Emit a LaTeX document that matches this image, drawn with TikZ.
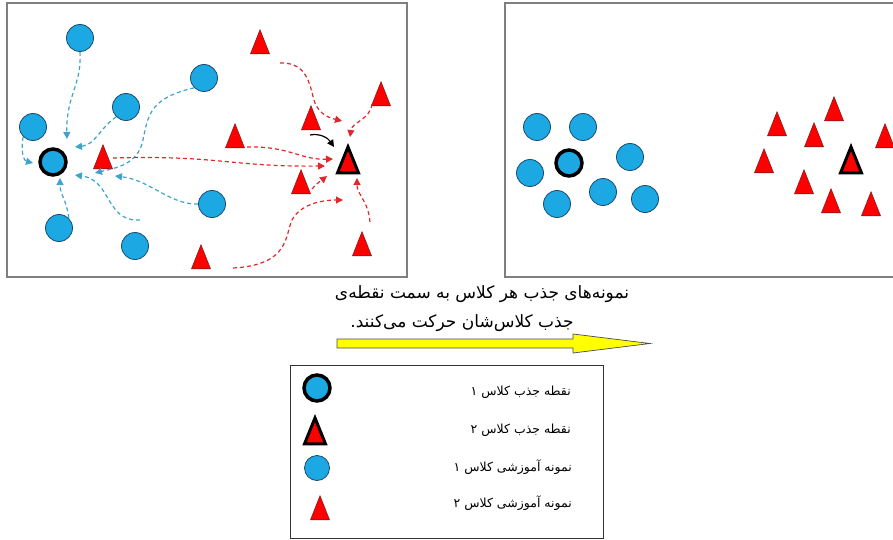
\documentclass[tikz,border=0pt]{standalone}
\usepackage{fontspec}
\usetikzlibrary{arrows.meta,shapes.geometric}
\newfontfamily\fa[Script=Arabic]{DejaVu Sans}
\TeXXeTstate=1

\definecolor{sampleblue}{HTML}{1CA8E3}
\definecolor{bluerim}{HTML}{1B4A6E}
\definecolor{samplered}{HTML}{FF0000}
\definecolor{redrim}{HTML}{8B1A1A}
\definecolor{flowblue}{HTML}{3FA4CC}
\definecolor{flowred}{HTML}{E0282C}
\definecolor{framegray}{HTML}{7F7F7F}
\definecolor{arrowyellow}{HTML}{FFFF00}

\tikzset{
  bsample/.style={circle, fill=sampleblue, draw=bluerim, line width=0.8pt,
    minimum size=27pt, inner sep=0pt},
  bcenter/.style={circle, fill=sampleblue, draw=black, line width=3.5pt,
    minimum size=26pt, inner sep=0pt},
  rsample/.style={isosceles triangle, shape border rotate=90,
    isosceles triangle stretches, minimum width=19pt, minimum height=24pt,
    fill=samplered, draw=redrim, line width=0.6pt, inner sep=0pt, anchor=apex},
  rcenter/.style={isosceles triangle, shape border rotate=90,
    isosceles triangle stretches, minimum width=21pt, minimum height=26pt,
    fill=samplered, draw=black, line width=3pt, inner sep=0pt, anchor=apex},
  panel/.style={draw=framegray, line width=1.5pt},
  bflow/.style={draw=flowblue, line width=1.2pt, dash pattern=on 4pt off 3pt,
    -{Triangle[length=7pt,width=7pt]}},
  rflow/.style={draw=flowred, line width=1.2pt, dash pattern=on 4pt off 3pt,
    -{Triangle[length=7pt,width=7pt]}},
  kflow/.style={draw=black, line width=1.2pt, -{Triangle[length=7pt,width=7pt]}},
  captext/.style={font=\fa\fontsize{17}{20}\selectfont, inner sep=0pt},
  fatext/.style={font=\fa\fontsize{12.5}{15}\selectfont, inner sep=0pt},
}

\begin{document}
\begin{tikzpicture}[x=1pt, y=-1pt]
\clip (0,0) rectangle (893,540);
\fill[white] (0,0) rectangle (893,540);

% ---------- left panel: samples moving towards their attractors ----------
\draw[panel] (7,3) rectangle (407,277);

\node[bsample] (c1) at (80,38) {};
\node[bsample] (c2) at (204,78) {};
\node[bsample] (c3) at (126,107) {};
\node[bsample] (c4) at (33,127) {};
\node[bsample] (c5) at (59,228) {};
\node[bsample] (c6) at (135,246) {};
\node[bsample] (c7) at (212,204) {};
\node[bcenter] (ac) at (53,162) {};

% triangles are placed by their apex
\node[rsample] (t1) at (260,29) {};
\node[rsample] (t2) at (381,81) {};
\node[rsample] (t3) at (311,105) {};
\node[rsample] (t4) at (235,123) {};
\node[rsample] (t5) at (103,144) {};
\node[rsample] (t6) at (301,169) {};
\node[rsample] (t7) at (362,231) {};
\node[rsample] (t8) at (201,244) {};
\node[rcenter] (at) at (348,143) {};

% arrow tips (free ends) around the class-1 attractor
\coordinate (b1) at (67,139);
\coordinate (b2) at (33,163);
\coordinate (b3) at (75,147);
\coordinate (b4) at (95,173);
\coordinate (b5) at (115,176);
\coordinate (b6) at (75,175);
\coordinate (b7) at (60,178);
\coordinate (b6s) at (140,220);

\draw[bflow] (c1.south) .. controls (82,85) and (66,95) .. (b1);
\draw[bflow] (c4.south west) .. controls (20,155) and (25,161) .. (b2);
\draw[bflow] (c3.south west) .. controls (100,128) and (95,145) .. (b3);
\draw[bflow] (c2.south west) .. controls (150,98) and (148,115) .. (143,140)
  .. controls (138,165) and (115,168) .. (b4);
\draw[bflow] (c7.west) .. controls (170,205) and (150,180) .. (b5);
\draw[bflow] (b6s) .. controls (105,222) and (112,180) .. (b6);
\draw[bflow] (c5.north east) .. controls (66,198) and (60,195) .. (b7);

% arrow tips (free ends) around the class-2 attractor
\coordinate (r1) at (325,166);
\coordinate (r2) at (333,159);
\coordinate (r3) at (342,121);
\coordinate (r4) at (350,137);
\coordinate (r5) at (327,176);
\coordinate (r6) at (343,200);
\coordinate (r7) at (357,178);
\coordinate (k0) at (310,135);
\coordinate (k1) at (334,147);

\draw[rflow] (113,158) .. controls (220,155) and (230,167) .. (r1);
\draw[rflow] (247,147) .. controls (290,146) and (300,160) .. (r2);
\draw[rflow] (280,63) .. controls (310,62) and (310,90) .. (315,103)
  .. controls (320,115) and (330,118) .. (r3);
\draw[rflow] (372,104) .. controls (370,120) and (352,122) .. (r4);
\draw[rflow] (312,189) .. controls (318,182) and (322,180) .. (r5);
\draw[rflow] (233,268) .. controls (290,265) and (285,235) .. (292,220)
  .. controls (300,205) and (320,200) .. (r6);
\draw[rflow] (370,222) .. controls (368,200) and (357,195) .. (r7);
\draw[kflow] (k0) .. controls (320,133) and (328,138) .. (k1);

% ---------- right panel: samples gathered round their attractors ----------
\draw[panel] (505,3) rectangle (900,277);

\node[bsample] (rc1) at (537,127) {};
\node[bsample] (rc2) at (583,127) {};
\node[bsample] (rc3) at (530,173) {};
\node[bsample] (rc4) at (630,157) {};
\node[bsample] (rc5) at (557,204) {};
\node[bsample] (rc6) at (603,192) {};
\node[bsample] (rc7) at (645,199) {};
\node[bcenter] (rac) at (569,163) {};

\node[rsample] (rt1) at (777,111) {};
\node[rsample] (rt2) at (834,96) {};
\node[rsample] (rt3) at (814,122) {};
\node[rsample] (rt4) at (885,123) {};
\node[rsample] (rt5) at (764,148) {};
\node[rsample] (rt6) at (804,169) {};
\node[rsample] (rt7) at (831,188) {};
\node[rsample] (rt8) at (871,191) {};
\node[rcenter] (rat) at (851,143) {};

% ---------- caption and yellow arrow ----------
\node[captext] (cap1) at (482,294)
  {\beginR نمونه^^^^200cهای جذب هر کلاس به سمت نقطه^^^^200cی\endR};
\node[captext] (cap2) at (462,323)
  {\beginR جذب کلاس^^^^200cشان حرکت می^^^^200cکنند.\endR};
\draw[fill=arrowyellow, draw=black!70, line width=0.7pt]
  (337,339) -- (573,339) -- (573,334) -- (650,343.5) -- (573,353)
  -- (573,348) -- (337,348) -- cycle;

% ---------- legend ----------
\draw[draw=black!80, line width=0.9pt] (290,365) rectangle (603,538);
\node[bcenter] (lg1) at (317,388) {};
\node[rcenter] (lg2) at (315,414) {};
\node[bsample, minimum size=25pt] (lg3) at (317,468) {};
\node[rsample] (lg4) at (320,495) {};

\node[fatext, anchor=east] (lt1) at (571,392) {\beginR نقطه جذب کلاس ۱\endR};
\node[fatext, anchor=east] (lt2) at (571,430) {\beginR نقطه جذب کلاس ۲\endR};
\node[fatext, anchor=east] (lt3) at (572,467) {\beginR نمونه آموزشی کلاس ۱\endR};
\node[fatext, anchor=east] (lt4) at (572,503) {\beginR نمونه آموزشی کلاس ۲\endR};
\end{tikzpicture}
\end{document}
